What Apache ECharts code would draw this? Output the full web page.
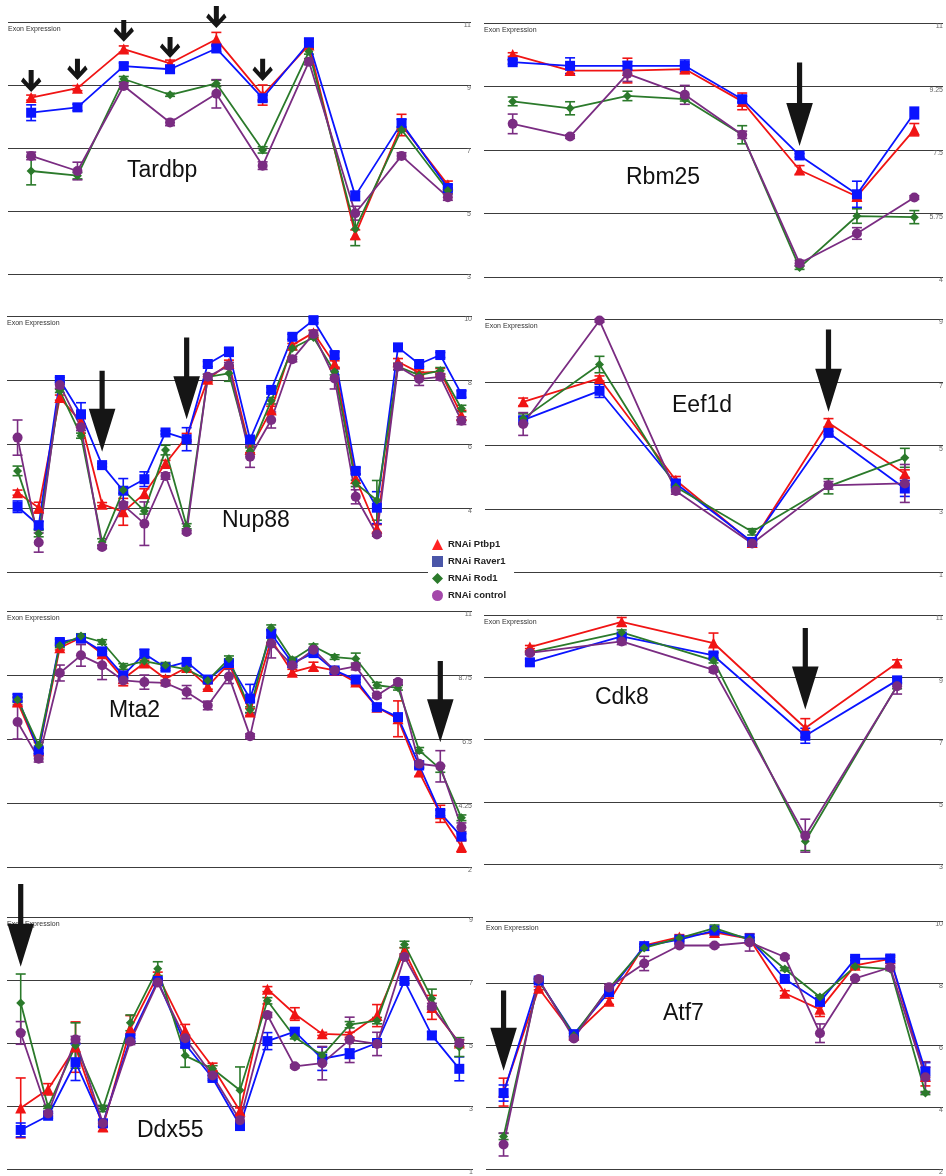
<!DOCTYPE html>
<html>
<head>
<meta charset="utf-8">
<script src="https://cdn.jsdelivr.net/npm/echarts@6/dist/echarts.min.js"></script>
<style>
html, body { margin: 0; padding: 0; background: #fff; }
#chart { width: 946px; height: 1176px; }
</style>
</head>
<body>
<div id="chart"></div>
<script>
// Series (RNAi treatments)
const seriesNames = ['RNAi Ptbp1', 'RNAi Raver1', 'RNAi Rod1', 'RNAi control'];

// ---- Tardbp ----
const tardbpPtbp1   = [8.60, 8.90, 10.14, 9.69, 10.45, 8.68, 10.27, 4.25, 7.73, 5.83];
const tardbpRaver1  = [8.12, 8.29, 9.60, 9.50, 10.16, 8.58, 10.34, 5.48, 7.79, 5.73];
const tardbpRod1    = [6.27, 6.12, 9.19, 8.69, 9.05, 6.94, 10.06, 4.43, 7.58, 5.65];
const tardbpControl = [6.75, 6.27, 8.97, 7.81, 8.72, 6.44, 9.74, 4.93, 6.75, 5.44];
const tardbpPtbp1Err   = [0.08, 0.08, 0.1, 0.1, 0.22, 0.32, 0.1, 0.15, 0.34, 0.12];
const tardbpRaver1Err  = [0.25, 0.1, 0.1, 0.12, 0.1, 0.1, 0.15, 0.15, 0.12, 0.1];
const tardbpRod1Err    = [0.44, 0.1, 0.08, 0.05, 0.1, 0.1, 0.08, 0.53, 0.05, 0.1];
const tardbpControlErr = [0.12, 0.28, 0.1, 0.1, 0.45, 0.12, 0.1, 0.22, 0.1, 0.1];
const tardbpArrows = [[0, 8.78, 9.48], [1, 9.16, 9.83], [2, 10.37, 11.06], [3, 9.86, 10.52], [4, 10.81, 11.51], [5, 9.13, 9.83]];

// ---- Rbm25 ----
const rbm25Ptbp1   = [10.13, 9.69, 9.69, 9.73, 8.84, 6.95, 6.22, 8.06];
const rbm25Raver1  = [9.92, 9.82, 9.82, 9.82, 8.90, 7.35, 6.28, 8.52];
const rbm25Rod1    = [8.84, 8.65, 8.99, 8.90, 7.92, 4.26, 5.68, 5.65];
const rbm25Control = [8.22, 7.87, 9.60, 9.02, 7.92, 4.38, 5.20, 6.19];
const rbm25Ptbp1Err   = [0.05, 0.08, 0.34, 0.12, 0.23, 0.12, 0.1, 0.17];
const rbm25Raver1Err  = [0.05, 0.22, 0.12, 0.16, 0.08, 0.05, 0.36, 0.16];
const rbm25Rod1Err    = [0.12, 0.18, 0.13, 0.05, 0.25, 0.05, 0.2, 0.18];
const rbm25ControlErr = [0.27, 0.05, 0.21, 0.26, 0.1, 0.08, 0.16, 0.05];
const rbm25Arrows = [[5, 7.61, 9.91]];

// ---- Nup88 ----
const nup88Ptbp1   = [4.48, 4.01, 7.45, 6.69, 4.12, 3.88, 4.45, 5.39, 6.23, 8.02, 8.52, 5.83, 7.06, 9.09, 9.48, 8.50, 4.92, 3.36, 8.57, 8.23, 8.26, 6.90];
const nup88Raver1  = [4.04, 3.46, 8.00, 6.93, 5.34, 4.54, 4.90, 6.36, 6.15, 8.50, 8.88, 6.14, 7.69, 9.35, 9.87, 8.78, 5.16, 4.01, 9.02, 8.50, 8.78, 7.56];
const nup88Rod1    = [5.16, 3.20, 7.66, 6.26, 2.94, 4.56, 3.91, 5.81, 3.43, 8.10, 8.21, 5.78, 7.35, 8.99, 9.33, 8.26, 4.77, 4.24, 8.42, 8.15, 8.29, 7.11];
const nup88Control = [6.20, 2.92, 7.84, 6.52, 2.78, 4.09, 3.51, 5.00, 3.25, 8.10, 8.45, 5.60, 6.75, 8.65, 9.44, 8.05, 4.35, 3.17, 8.42, 8.03, 8.10, 6.73];
const nup88Ptbp1Err   = [0.08, 0.17, 0.08, 0.1, 0.05, 0.42, 0.15, 0.1, 0.1, 0.08, 0.1, 0.1, 0.12, 0.05, 0.08, 0.1, 0.15, 0.12, 0.1, 0.1, 0.1, 0.15];
const nup88Raver1Err  = [0.18, 0.12, 0.08, 0.36, 0.05, 0.38, 0.23, 0.05, 0.36, 0.08, 0.14, 0.1, 0.08, 0.08, 0.08, 0.1, 0.1, 0.5, 0.08, 0.08, 0.08, 0.1];
const nup88Rod1Err    = [0.15, 0.1, 0.05, 0.08, 0.1, 0.1, 0.1, 0.15, 0.08, 0.08, 0.25, 0.1, 0.1, 0.05, 0.05, 0.1, 0.1, 0.62, 0.1, 0.1, 0.1, 0.1];
const nup88ControlErr = [0.55, 0.3, 0.1, 0.1, 0.05, 0.1, 0.68, 0.1, 0.05, 0.08, 0.1, 0.33, 0.25, 0.08, 0.1, 0.33, 0.22, 0.05, 0.1, 0.2, 0.1, 0.12];
const nup88Arrows = [[4, 5.76, 8.29], [8, 6.77, 9.33]];

// ---- Eef1d ----
const eef1dPtbp1   = [6.38, 7.12, 3.90, 1.93, 5.72, 4.11];
const eef1dRaver1  = [5.80, 6.73, 3.80, 1.95, 5.40, 3.64];
const eef1dRod1    = [5.85, 7.56, 3.69, 2.27, 3.71, 4.61];
const eef1dControl = [5.68, 8.95, 3.56, 1.90, 3.74, 3.80];
const eef1dPtbp1Err   = [0.12, 0.08, 0.12, 0.05, 0.13, 0.12];
const eef1dRaver1Err  = [0.1, 0.21, 0.1, 0.05, 0.05, 0.25];
const eef1dRod1Err    = [0.15, 0.26, 0.08, 0.1, 0.24, 0.3];
const eef1dControlErr = [0.36, 0.05, 0.1, 0.05, 0.12, 0.6];
const eef1dArrows = [[4, 6.07, 8.67]];

// ---- Mta2 ----
const mta2Ptbp1   = [7.80, 6.08, 9.71, 10.06, 9.50, 8.62, 9.17, 8.62, 9.01, 8.35, 9.15, 7.45, 9.99, 8.85, 9.05, 8.91, 8.50, 7.62, 7.21, 5.34, 3.87, 2.72];
const mta2Raver1  = [7.95, 6.10, 9.91, 10.03, 9.58, 8.74, 9.50, 9.01, 9.21, 8.59, 9.17, 7.92, 10.20, 9.17, 9.52, 8.91, 8.59, 7.62, 7.27, 5.57, 3.90, 3.07];
const mta2Rod1    = [7.88, 6.28, 9.79, 10.12, 9.91, 9.05, 9.24, 9.09, 8.95, 8.56, 9.32, 7.53, 10.41, 9.29, 9.76, 9.38, 9.32, 8.39, 8.30, 6.10, 5.45, 3.73];
const mta2Control = [7.10, 5.81, 8.82, 9.44, 9.09, 8.56, 8.50, 8.47, 8.15, 7.68, 8.70, 6.60, 9.85, 9.09, 9.64, 8.91, 9.05, 8.03, 8.50, 5.63, 5.54, 3.40];
const mta2Ptbp1Err   = [0.15, 0.1, 0.08, 0.08, 0.08, 0.25, 0.1, 0.08, 0.08, 0.1, 0.08, 0.12, 0.1, 0.1, 0.15, 0.08, 0.1, 0.1, 0.63, 0.15, 0.3, 0.2];
const mta2Raver1Err  = [0.12, 0.1, 0.1, 0.1, 0.1, 0.1, 0.15, 0.1, 0.1, 0.1, 0.1, 0.5, 0.15, 0.08, 0.1, 0.08, 0.1, 0.1, 0.1, 0.1, 0.1, 0.1];
const mta2Rod1Err    = [0.1, 0.1, 0.08, 0.08, 0.08, 0.1, 0.1, 0.1, 0.08, 0.08, 0.1, 0.1, 0.1, 0.08, 0.08, 0.08, 0.2, 0.1, 0.08, 0.1, 0.12, 0.1];
const mta2ControlErr = [0.6, 0.12, 0.28, 0.38, 0.5, 0.1, 0.25, 0.1, 0.23, 0.15, 0.25, 0.08, 0.5, 0.08, 0.08, 0.08, 0.12, 0.08, 0.08, 0.1, 0.55, 0.15];
const mta2Arrows = [[20, 6.39, 9.24]];

// ---- Cdk8 ----
const cdk8Ptbp1   = [9.97, 10.78, 10.10, 7.37, 9.46];
const cdk8Raver1  = [9.48, 10.31, 9.70, 7.12, 8.90];
const cdk8Rod1    = [9.80, 10.44, 9.54, 3.73, 8.73];
const cdk8Control = [9.78, 10.15, 9.24, 3.91, 8.71];
const cdk8Ptbp1Err   = [0.05, 0.14, 0.32, 0.3, 0.1];
const cdk8Raver1Err  = [0.1, 0.1, 0.1, 0.24, 0.1];
const cdk8Rod1Err    = [0.05, 0.08, 0.08, 0.3, 0.1];
const cdk8ControlErr = [0.05, 0.1, 0.08, 0.53, 0.25];
const cdk8Arrows = [[3, 7.96, 10.58]];

// ---- Ddx55 ----
const ddx55Ptbp1   = [2.94, 3.53, 4.87, 2.34, 5.45, 7.15, 5.39, 4.24, 2.84, 6.71, 5.92, 5.29, 5.26, 5.87, 7.92, 6.13, 5.00];
const ddx55Raver1  = [2.24, 2.69, 4.39, 2.45, 5.15, 6.97, 4.97, 3.89, 2.38, 5.06, 5.36, 4.50, 4.66, 5.00, 6.97, 5.24, 4.18];
const ddx55Rod1    = [6.27, 2.97, 4.92, 2.92, 5.64, 7.36, 4.60, 4.18, 3.50, 6.34, 5.18, 4.60, 5.58, 5.71, 8.13, 6.41, 4.87];
const ddx55Control = [5.32, 2.76, 5.11, 2.45, 5.05, 6.92, 5.15, 3.97, 2.55, 5.89, 4.26, 4.36, 5.10, 4.97, 7.73, 6.16, 5.00];
const ddx55Ptbp1Err   = [0.95, 0.18, 0.8, 0.15, 0.42, 0.1, 0.2, 0.12, 0.1, 0.08, 0.2, 0.05, 0.08, 0.35, 0.1, 0.38, 0.1];
const ddx55Raver1Err  = [0.22, 0.08, 0.58, 0.1, 0.1, 0.08, 0.1, 0.08, 0.15, 0.27, 0.12, 0.37, 0.15, 0.1, 0.08, 0.12, 0.38];
const ddx55Rod1Err    = [0.92, 0.05, 0.72, 0.1, 0.25, 0.22, 0.37, 0.1, 0.74, 0.1, 0.05, 0.1, 0.1, 0.1, 0.1, 0.3, 0.3];
const ddx55ControlErr = [0.36, 0.08, 0.1, 0.1, 0.1, 0.1, 0.1, 0.1, 0.1, 0.08, 0.05, 0.53, 0.72, 0.37, 0.1, 0.1, 0.1];
const ddx55Arrows = [[0, 7.42, 10.05]];

// ---- Atf7 ----
const atf7Ptbp1   = [4.48, 7.83, 6.33, 7.41, 9.21, 9.48, 9.63, 9.42, 7.67, 7.15, 8.57, 8.78, 4.98];
const atf7Raver1  = [4.45, 8.08, 6.35, 7.71, 9.19, 9.40, 9.69, 9.43, 8.13, 7.39, 8.78, 8.79, 5.15];
const atf7Rod1    = [3.05, 8.08, 6.31, 7.83, 9.13, 9.45, 9.77, 9.40, 8.45, 7.55, 8.53, 8.45, 4.45];
const atf7Control = [2.79, 8.13, 6.21, 7.86, 8.63, 9.21, 9.21, 9.31, 8.84, 6.38, 8.15, 8.50, 4.96];
const atf7Ptbp1Err   = [0.45, 0.05, 0.05, 0.1, 0.05, 0.08, 0.08, 0.05, 0.08, 0.23, 0.05, 0.05, 0.3];
const atf7Raver1Err  = [0.26, 0.05, 0.05, 0.05, 0.05, 0.05, 0.05, 0.05, 0.05, 0.1, 0.05, 0.1, 0.28];
const atf7Rod1Err    = [0.1, 0.05, 0.05, 0.05, 0.05, 0.05, 0.1, 0.05, 0.05, 0.05, 0.05, 0.05, 0.05];
const atf7ControlErr = [0.37, 0.05, 0.05, 0.1, 0.23, 0.05, 0.05, 0.28, 0.05, 0.3, 0.05, 0.05, 0.5];
const atf7Arrows = [[0, 5.17, 7.76]];

// Axis ranges (min, max, tick interval) per gene
const genes = ['Tardbp', 'Rbm25', 'Nup88', 'Eef1d', 'Mta2', 'Cdk8', 'Ddx55', 'Atf7'];
const axisMin = [3, 4, 2, 1, 2, 3, 1, 2];
const axisMax = [11, 11, 10, 9, 11, 11, 9, 10];
const axisStep = [2, 1.75, 2, 2, 2.25, 2, 2, 2];

const panelData = [
  { vals: [tardbpPtbp1, tardbpRaver1, tardbpRod1, tardbpControl], errs: [tardbpPtbp1Err, tardbpRaver1Err, tardbpRod1Err, tardbpControlErr], arrows: tardbpArrows },
  { vals: [rbm25Ptbp1, rbm25Raver1, rbm25Rod1, rbm25Control], errs: [rbm25Ptbp1Err, rbm25Raver1Err, rbm25Rod1Err, rbm25ControlErr], arrows: rbm25Arrows },
  { vals: [nup88Ptbp1, nup88Raver1, nup88Rod1, nup88Control], errs: [nup88Ptbp1Err, nup88Raver1Err, nup88Rod1Err, nup88ControlErr], arrows: nup88Arrows },
  { vals: [eef1dPtbp1, eef1dRaver1, eef1dRod1, eef1dControl], errs: [eef1dPtbp1Err, eef1dRaver1Err, eef1dRod1Err, eef1dControlErr], arrows: eef1dArrows },
  { vals: [mta2Ptbp1, mta2Raver1, mta2Rod1, mta2Control], errs: [mta2Ptbp1Err, mta2Raver1Err, mta2Rod1Err, mta2ControlErr], arrows: mta2Arrows },
  { vals: [cdk8Ptbp1, cdk8Raver1, cdk8Rod1, cdk8Control], errs: [cdk8Ptbp1Err, cdk8Raver1Err, cdk8Rod1Err, cdk8ControlErr], arrows: cdk8Arrows },
  { vals: [ddx55Ptbp1, ddx55Raver1, ddx55Rod1, ddx55Control], errs: [ddx55Ptbp1Err, ddx55Raver1Err, ddx55Rod1Err, ddx55ControlErr], arrows: ddx55Arrows },
  { vals: [atf7Ptbp1, atf7Raver1, atf7Rod1, atf7Control], errs: [atf7Ptbp1Err, atf7Raver1Err, atf7Rod1Err, atf7ControlErr], arrows: atf7Arrows }
];

// Panel placement
const layout = [
  { left: 8,   top: 22,  width: 463, height: 252, label: [127, 159], arrow: 'small' },
  { left: 484, top: 23,  width: 460, height: 254, label: [626, 166], arrow: 'big' },
  { left: 7,   top: 316, width: 465, height: 256, label: [222, 509], arrow: 'big' },
  { left: 485, top: 319, width: 459, height: 253, label: [672, 394], arrow: 'big' },
  { left: 7,   top: 611, width: 465, height: 256, label: [109, 699], arrow: 'big' },
  { left: 484, top: 615, width: 459, height: 249, label: [595, 686], arrow: 'big' },
  { left: 7,   top: 917, width: 466, height: 254, label: [137, 1119], arrow: 'big' },
  { left: 486, top: 921, width: 458, height: 252, label: [663, 1002], arrow: 'big' }
];

const colors = ['#f01414', '#0a14ff', '#2b7a2b', '#7a2c82'];
const legendColors = ['#ff2222', '#4a56a8', '#2b7a2b', '#a448aa'];
const symbols = ['triangle', 'rect', 'diamond', 'circle'];
const symbolSizes = [11, 10, 9, 10];

function errorRenderer(color) {
  return function (params, api) {
    const x = api.value(0);
    const lo = api.coord([x, api.value(1)]);
    const hi = api.coord([x, api.value(2)]);
    const w = 5;
    const style = { stroke: color, lineWidth: 1.6, fill: null };
    return {
      type: 'group',
      children: [
        { type: 'line', shape: { x1: hi[0], y1: hi[1], x2: lo[0], y2: lo[1] }, style },
        { type: 'line', shape: { x1: hi[0] - w, y1: hi[1], x2: hi[0] + w, y2: hi[1] }, style },
        { type: 'line', shape: { x1: lo[0] - w, y1: lo[1], x2: lo[0] + w, y2: lo[1] }, style }
      ]
    };
  };
}

function arrowRenderer(kind) {
  return function (params, api) {
    const x = api.value(0);
    const tip = api.coord([x, api.value(1)]);
    const tail = api.coord([x, api.value(2)]);
    const L = tip[1] - tail[1];
    let pts;
    if (kind === 'small') {
      pts = [[-2.5, -L], [2.5, -L], [2.5, -8.5], [7.8, -14.5], [10.2, -10.8], [0, 0], [-10.2, -10.8], [-7.8, -14.5], [-2.5, -8.5]];
    } else {
      const H = 43, W = 13.3, s = 2.6;
      pts = [[-s, -L], [s, -L], [s, -H], [W, -H], [0, 0], [-W, -H], [-s, -H]];
    }
    return {
      type: 'polygon',
      shape: { points: pts.map(p => [tip[0] + p[0], tip[1] + p[1]]) },
      style: { fill: '#151515' }
    };
  };
}

const grid = [], xAxis = [], yAxis = [], series = [], graphic = [];

panelData.forEach((pd, i) => {
  const lay = layout[i];
  const exons = pd.vals[0].map((v, k) => 'E' + (k + 1));
  grid.push({ left: lay.left, top: lay.top, width: lay.width, height: lay.height });
  xAxis.push({ gridIndex: i, type: 'category', data: exons, boundaryGap: true, show: false });
  yAxis.push({
    gridIndex: i, type: 'value', position: 'right',
    min: axisMin[i], max: axisMax[i], interval: axisStep[i],
    axisLine: { show: false }, axisTick: { show: false },
    splitLine: { show: true, lineStyle: { color: '#3c3c3c', width: 1.2 } },
    axisLabel: { fontSize: 7, color: '#666', align: 'right', margin: 0, verticalAlign: 'top', fontFamily: 'Liberation Sans' }
  });

  pd.vals.forEach((vals, s) => {
    const errs = pd.errs[s];
    series.push({
      type: 'custom', xAxisIndex: i, yAxisIndex: i, z: 2, clip: false,
      renderItem: errorRenderer(colors[s]),
      encode: { x: 0, y: [1, 2] },
      data: vals.map((v, k) => [k, v - errs[k], v + errs[k]]),
      silent: true
    });
  });
  pd.vals.forEach((vals, s) => {
    series.push({
      type: 'line', name: seriesNames[s], xAxisIndex: i, yAxisIndex: i, z: 3,
      data: vals, symbol: symbols[s], symbolSize: symbolSizes[s], showAllSymbol: true,
      lineStyle: { color: colors[s], width: 1.8 },
      itemStyle: { color: colors[s] },
      emphasis: { disabled: true }
    });
  });
  series.push({
    type: 'custom', xAxisIndex: i, yAxisIndex: i, z: 6, clip: false,
    renderItem: arrowRenderer(lay.arrow),
    encode: { x: 0, y: [1, 2] },
    data: pd.arrows, silent: true
  });

  graphic.push({
    type: 'text', left: lay.left, top: lay.top + 4, z: 1,
    style: { text: 'Exon Expression', font: '7px "Liberation Sans"', fill: '#333' }
  });
  graphic.push({
    type: 'text', left: lay.label[0], top: lay.label[1], z: 5,
    style: { text: genes[i], font: '23px "Liberation Sans"', fill: '#111' }
  });
});

const chart = echarts.init(document.getElementById('chart'), null, { renderer: 'canvas' });
chart.setOption({
  animation: false,
  backgroundColor: '#fff',
  grid, xAxis, yAxis, series, graphic,
  legend: {
    orient: 'vertical', left: 428, top: 536, z: 10,
    itemWidth: 11, itemHeight: 11, itemGap: 6,
    backgroundColor: '#fff', padding: [3, 8, 3, 4],
    textStyle: { fontSize: 9.5, fontWeight: 'bold', color: '#222', fontFamily: 'Liberation Sans' },
    selectedMode: false,
    data: seriesNames.map((nm, s) => ({ name: nm, icon: symbols[s], itemStyle: { color: legendColors[s] } }))
  }
});
</script>
</body>
</html>
